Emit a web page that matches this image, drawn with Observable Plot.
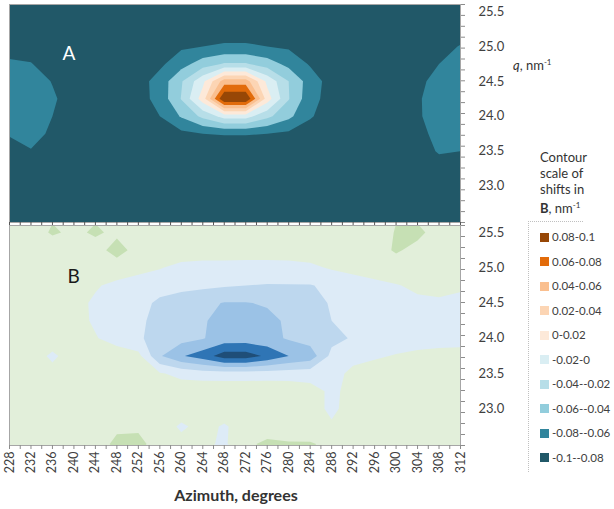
<!DOCTYPE html>
<html>
<head>
<meta charset="utf-8">
<script src="https://cdn.jsdelivr.net/npm/d3@7"></script>
<script src="https://cdn.jsdelivr.net/npm/@observablehq/plot@0.6"></script>
<style>
  body { margin: 0; background: #fff; }
  #wrap { position: relative; width: 614px; height: 509px; overflow: hidden;
          font-family: Lato, "Open Sans", sans-serif; color: #404040; }
  #wrap > svg, #wrap > div { position: absolute; }
  .sup { font-size: 8px; vertical-align: 5px; }
  .leg { left: 540px; font-size: 11.5px; line-height: 16px; white-space: nowrap; }
  .sw { display: inline-block; width: 9px; height: 9px; margin-right: 3px; vertical-align: -0.5px; }
</style>
</head>
<body>
<div id="wrap"></div>
<script>
// ---- data ----
const azimuth = [228, 232, 236, 240, 244, 248, 252, 256, 260, 264, 268, 272, 276, 280, 284, 288, 292, 296, 300, 304, 308, 312];
const qRows = [25.5, 25.25, 25.0, 24.75, 24.5, 24.25, 24.0, 23.75, 23.5, 23.25, 23.0, 22.75, 22.5];
const qDomain = [22.48, 25.6];
const qTickLabels = [23.0, 23.5, 24.0, 24.5, 25.0, 25.5];
const azimuthTickLabels = [228, 232, 236, 240, 244, 248, 252, 256, 260, 264, 268, 272, 276, 280, 284, 288, 292, 296, 300, 304, 308, 312];
const thresholds = [-0.1, -0.08, -0.06, -0.04, -0.02, 0, 0.02, 0.04, 0.06, 0.08];
const coloursA = ["#215868", "#31859C", "#92CDDC", "#B7DEE8", "#DAEEF3", "#FDE9D9", "#FCD5B4", "#FABF8F", "#E26B0A", "#974706"];
const coloursB = ["#1F4E78", "#2F75B5", "#9BC2E6", "#BDD7EE", "#DDEBF7", "#E2EFDA", "#C6E0B4", "#A9D08E", "#A9D08E", "#A9D08E"];
const legendLabels = ["-0.1--0.08", "-0.08--0.06", "-0.06--0.04", "-0.04--0.02", "-0.02-0", "0-0.02", "0.02-0.04", "0.04-0.06", "0.06-0.08", "0.08-0.1"];

// panel A: shift values, one row per q (top row = 25.5), one column per azimuth
const shiftA = [
  [-0.09,-0.09,-0.09,-0.09,-0.09,-0.09,-0.09,-0.09,-0.09,-0.09,-0.09,-0.09,-0.09,-0.09,-0.09,-0.09,-0.09,-0.09,-0.09,-0.09,-0.09,-0.09],
  [-0.09,-0.09,-0.09,-0.09,-0.09,-0.09,-0.09,-0.09,-0.09,-0.09,-0.088,-0.088,-0.09,-0.09,-0.09,-0.09,-0.09,-0.09,-0.09,-0.09,-0.09,-0.09],
  [-0.09,-0.09,-0.09,-0.09,-0.09,-0.09,-0.09,-0.09,-0.083,-0.08,-0.078,-0.078,-0.08,-0.083,-0.09,-0.09,-0.09,-0.09,-0.09,-0.09,-0.086,-0.079],
  [-0.076,-0.079,-0.09,-0.09,-0.09,-0.09,-0.09,-0.084,-0.068,-0.05,-0.038,-0.038,-0.05,-0.066,-0.082,-0.09,-0.09,-0.09,-0.09,-0.09,-0.08,-0.07],
  [-0.07,-0.07,-0.081,-0.09,-0.09,-0.09,-0.088,-0.072,-0.042,-0.005,0.05,0.05,-0.005,-0.04,-0.07,-0.088,-0.09,-0.09,-0.09,-0.085,-0.073,-0.07],
  [-0.07,-0.07,-0.077,-0.09,-0.09,-0.09,-0.088,-0.073,-0.039,0.01,0.1,0.1,0.01,-0.039,-0.073,-0.088,-0.09,-0.09,-0.09,-0.082,-0.072,-0.07],
  [-0.072,-0.072,-0.08,-0.09,-0.09,-0.09,-0.09,-0.08,-0.058,-0.035,-0.012,-0.012,-0.035,-0.055,-0.078,-0.09,-0.09,-0.09,-0.09,-0.082,-0.073,-0.07],
  [-0.078,-0.074,-0.083,-0.09,-0.09,-0.09,-0.09,-0.09,-0.085,-0.08,-0.079,-0.079,-0.08,-0.084,-0.09,-0.09,-0.09,-0.09,-0.09,-0.085,-0.075,-0.072],
  [-0.09,-0.081,-0.09,-0.09,-0.09,-0.09,-0.09,-0.09,-0.09,-0.09,-0.09,-0.09,-0.09,-0.09,-0.09,-0.09,-0.09,-0.09,-0.09,-0.09,-0.078,-0.08],
  [-0.09,-0.09,-0.09,-0.09,-0.09,-0.09,-0.09,-0.09,-0.09,-0.09,-0.09,-0.09,-0.09,-0.09,-0.09,-0.09,-0.09,-0.09,-0.09,-0.09,-0.09,-0.09],
  [-0.09,-0.09,-0.09,-0.09,-0.09,-0.09,-0.09,-0.09,-0.09,-0.09,-0.09,-0.09,-0.09,-0.09,-0.09,-0.09,-0.09,-0.09,-0.09,-0.09,-0.09,-0.09],
  [-0.09,-0.09,-0.09,-0.09,-0.09,-0.09,-0.09,-0.09,-0.09,-0.09,-0.09,-0.09,-0.09,-0.09,-0.09,-0.09,-0.09,-0.09,-0.09,-0.09,-0.09,-0.09],
  [-0.09,-0.09,-0.09,-0.09,-0.09,-0.09,-0.09,-0.09,-0.09,-0.09,-0.09,-0.09,-0.09,-0.09,-0.09,-0.09,-0.09,-0.09,-0.09,-0.09,-0.09,-0.09]
];

// panel B: shift values, same layout
const shiftB = [
  [0.01,0.012,0.022,0.017,0.022,0.017,0.012,0.01,0.01,0.01,0.01,0.01,0.01,0.01,0.01,0.01,0.01,0.012,0.021,0.024,0.013,0.01],
  [0.01,0.01,0.01,0.01,0.014,0.026,0.014,0.01,0.01,0.01,0.01,0.01,0.01,0.01,0.01,0.01,0.01,0.013,0.022,0.015,0.01,0.01],
  [0.01,0.01,0.01,0.01,0.01,0.012,0.006,0.001,-0.005,-0.007,-0.007,-0.008,-0.008,-0.007,-0.004,0.002,0.006,0.009,0.011,0.01,0.01,0.01],
  [0.01,0.01,0.01,0.008,0.002,-0.005,-0.009,-0.012,-0.014,-0.016,-0.018,-0.02,-0.021,-0.021,-0.021,-0.016,-0.01,-0.005,-0.001,0.003,0.004,0.003],
  [0.01,0.01,0.009,0.006,-0.003,-0.008,-0.013,-0.024,-0.03,-0.035,-0.041,-0.041,-0.038,-0.03,-0.024,-0.019,-0.012,-0.008,-0.006,-0.003,-0.002,-0.005],
  [0.01,0.01,0.009,0.005,-0.002,-0.01,-0.017,-0.025,-0.032,-0.038,-0.047,-0.047,-0.045,-0.037,-0.028,-0.02,-0.014,-0.01,-0.008,-0.006,-0.006,-0.006],
  [0.01,0.01,0.009,0.006,0.001,-0.006,-0.018,-0.026,-0.033,-0.039,-0.048,-0.049,-0.046,-0.038,-0.031,-0.026,-0.018,-0.012,-0.008,-0.006,-0.005,-0.004],
  [0.01,0.008,-0.003,0.008,0.01,0.008,0.006,-0.038,-0.058,-0.07,-0.09,-0.09,-0.076,-0.06,-0.052,-0.014,-0.005,-0.002,0.001,0.003,0.004,0.004],
  [0.01,0.01,0.005,0.01,0.01,0.01,0.009,0.002,-0.006,-0.01,-0.011,-0.011,-0.01,-0.01,-0.009,-0.006,0.004,0.007,0.008,0.009,0.01,0.01],
  [0.01,0.01,0.01,0.01,0.01,0.01,0.01,0.01,0.012,0.015,0.015,0.015,0.015,0.014,0.008,-0.004,0.006,0.01,0.01,0.01,0.01,0.01],
  [0.01,0.01,0.01,0.01,0.01,0.01,0.01,0.01,0.01,0.01,0.01,0.01,0.01,0.01,0.006,-0.003,0.006,0.01,0.01,0.01,0.01,0.01],
  [0.01,0.01,0.01,0.01,0.01,0.016,0.017,0.01,-0.003,0.006,-0.002,0.008,0.01,0.008,0.0,0.002,0.008,0.01,0.01,0.01,0.01,0.01],
  [0.01,0.01,0.01,0.01,0.01,0.025,0.025,0.012,0.006,0.004,-0.003,0.016,0.024,0.022,0.023,0.012,0.01,0.01,0.01,0.01,0.01,0.01]
];

// ---- drawing ----
const wrap = document.getElementById("wrap");
const dAz = azimuth[1] - azimuth[0];
const dQ = qRows[0] - qRows[1];
const minorQ = d3.range(21).map(k => qDomain[0] + k * (qDomain[1] - qDomain[0]) / 20);
const minorAz = d3.range(azimuth[0], azimuth[azimuth.length - 1] + 1, 2);
const axisGrey = "#8c8c8c";

function panel(grid, colours, o) {
  const marks = [
    Plot.frame({fill: colours[0]}),
    Plot.contour(grid.flat(), {
      width: azimuth.length, height: qRows.length,
      x1: azimuth[0] - dAz / 2, x2: azimuth[azimuth.length - 1] + dAz / 2,
      y1: qRows[0] + dQ / 2, y2: qRows[qRows.length - 1] - dQ / 2,
      thresholds, fill: Plot.identity, stroke: "none", clip: true
    }),
    Plot.frame({stroke: "#a6a6a6"}),
    Plot.axisY({anchor: "right", ticks: minorQ, tickSize: 4, tickFormat: () => "", stroke: axisGrey, label: null}),
    Plot.axisY({anchor: "right", ticks: qTickLabels, tickSize: 0, tickPadding: 18, tickFormat: d3.format(".1f"), label: null, fontSize: 13}),
    Plot.text([o.label], {frameAnchor: "top-left", dx: o.lx, dy: o.ly, textAnchor: "start", lineAnchor: "middle", fontSize: 19, fill: o.labelColour, text: d => d})
  ];
  if (o.xLabels) {
    marks.push(
      Plot.axisX({ticks: minorAz, tickSize: 4, tickFormat: () => "", stroke: axisGrey, label: null}),
      Plot.axisX({ticks: azimuthTickLabels, tickSize: 0, tickPadding: 6, tickRotate: -90, label: null, fontSize: 12.5})
    );
  } else {
    marks.push(Plot.axisX({ticks: minorAz, tickSize: 3, tickFormat: () => "", stroke: "#555", label: null}));
  }
  return Plot.plot({
    width: 520, height: o.height,
    marginLeft: 9, marginRight: 60, marginTop: 4, marginBottom: o.marginBottom,
    style: {fontFamily: "Lato, 'Open Sans', sans-serif", color: "#404040", background: "transparent", overflow: "visible"},
    x: {domain: [azimuth[0], azimuth[azimuth.length - 1]]},
    y: {domain: qDomain},
    color: {type: "threshold", domain: thresholds.slice(1), range: colours},
    marks
  });
}

const svgA = panel(shiftA, coloursA, {height: 226, marginBottom: 4, label: "A", lx: 53, ly: 49, labelColour: "#ffffff"});
svgA.style.left = "0px"; svgA.style.top = "0px";
wrap.appendChild(svgA);

const svgB = panel(shiftB, coloursB, {height: 288, marginBottom: 64, label: "B", lx: 58, ly: 51, labelColour: "#1a1a1a", xLabels: true});
svgB.style.left = "0px"; svgB.style.top = "221px";
wrap.appendChild(svgB);

// text around the plots
function addDiv(html, css) {
  const d = document.createElement("div");
  d.innerHTML = html;
  Object.assign(d.style, css);
  wrap.appendChild(d);
  return d;
}
addDiv("Azimuth, degrees", {left: "136px", top: "485px", width: "200px", textAlign: "center", fontWeight: "bold", fontSize: "16px", lineHeight: "20px", color: "#333"});
addDiv("<i>q</i>, nm<span class='sup'>-1</span>", {left: "513px", top: "53px", fontSize: "13px", lineHeight: "18px", color: "#333"});
addDiv("Contour<br>scale of<br>shifts in<br><b>B</b>, nm<span class='sup'>-1</span>", {left: "540px", top: "149px", fontSize: "13px", lineHeight: "16px", color: "#333"});
addDiv("", {left: "528px", top: "221px", width: "54px", height: "250px", borderTop: "1px dotted #c0c0c0", borderLeft: "1px dotted #c0c0c0"});
for (let i = 0; i < legendLabels.length; i++) {
  const k = legendLabels.length - 1 - i;   // top entry is the highest band
  const d = addDiv(`<span class="sw" style="background:${coloursA[k]}"></span>${legendLabels[k]}`, {top: (229 + i * 24.5) + "px"});
  d.className = "leg";
}
</script>
</body>
</html>
